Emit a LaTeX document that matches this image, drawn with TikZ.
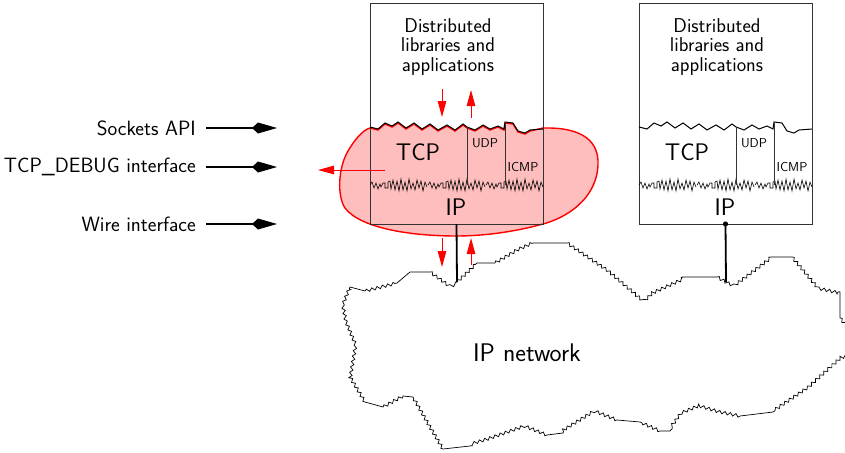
\documentclass[tikz,border=0pt]{standalone}
\usetikzlibrary{arrows.meta,decorations.pathmorphing}
\definecolor{blobfill}{RGB}{255,190,190}
\begin{document}
\begin{tikzpicture}[x=1pt,y=-1pt,font=\sffamily,
  boxline/.style={draw=black!80,line width=0.8pt},
  redarr/.style={red,line width=1pt,-{Triangle[length=16pt,width=8.5pt]}},
  apiarrow/.style={line width=1.8pt,-{Kite[length=25pt,width=11pt,inset=6pt]}},
  lbl/.style={font=\sffamily\fontsize{20.7}{20}\selectfont,anchor=east,inner sep=0pt},
  dist/.style={font=\sffamily\fontsize{20}{19.5}\selectfont,align=center,inner sep=0pt},
  big/.style={font=\sffamily\fontsize{24}{24}\selectfont,inner sep=0pt},
  small/.style={font=\sffamily\fontsize{13}{13}\selectfont,inner sep=0pt},
  stack/.pic={
    \draw[boxline] (0,0) rectangle (173,221);
    \draw[line width=1pt] plot coordinates {(0,124) (8,126) (15,120) (22,123) (28,119) (36,125) (44,120) (52,126) (60,121) (68,127) (77,122) (85,127) (93,121) (97,124) (105,127) (113,122) (120,126) (128,123) (134,126) (135,119) (143,120) (148,128) (155,130) (160,127) (173,126)};
    \foreach \o in {0,58,116}{
      \draw[line width=0.6pt,shift={(\o,0)}] plot coordinates {(0,182) (2,179) (4,185) (6,180) (8,186) (10,181) (11,184) (13,180) (15,180) (15,185) (18,185) (18,179) (20,178) (21,186) (23,177) (25,187) (27,178) (29,188) (31,176) (33,187) (35,179) (37,188) (39,176) (41,186) (43,180) (45,187) (47,177) (49,185) (51,178) (53,188) (55,179) (57,184)};
    }
    \draw[boxline] (97,124) -- (97,182);
    \draw[boxline] (135,119) -- (135,182);
    \node[dist] (-dist) at (78,44) {Distributed\\libraries and\\applications};
    \node[big] (-tcp) at (48,149) {TCP};
    \node[small] (-udp) at (115,140) {UDP};
    \node[small] (-icmp) at (153,164) {ICMP};
    \node[big] (-ip) at (86,204) {IP};
    \coordinate (-bot) at (86.5,221);
  }]
\useasboundingbox (0,0) rectangle (845,452);

% red blob behind left stack
\begin{scope}[shift={(370,3)}]
  \filldraw[fill=blobfill,draw=red,line width=1.4pt]
    plot coordinates {(0,125) (8,127) (15,121) (22,124) (28,120) (36,126) (44,121) (52,127) (60,122) (68,128) (77,123) (85,128) (93,122) (97,125) (105,128) (113,123) (120,127) (128,124) (134,127) (135,120) (143,121) (148,129) (155,131) (160,128) (173,125)}
    .. controls (215,124) and (229,140) .. (228,162)
    .. controls (227,190) and (205,212) .. (173,221)
    .. controls (140,230) and (110,233) .. (86,233)
    .. controls (40,233) and (-10,225) .. (-25,205)
    .. controls (-33,193) and (-32,165) .. (-22,148)
    .. controls (-15,136) and (-7,127) .. (0,125) -- cycle;
\end{scope}

\pic (L) at (370,3) {stack};
\pic (R) at (639,3) {stack};

% red arrows
\begin{scope}[shift={(370,3)}]
  \coordinate (d1s) at (72,86);  \coordinate (d1e) at (72,114);
  \coordinate (u1s) at (101,115); \coordinate (u1e) at (101,87);
  \coordinate (ls) at (15,167);  \coordinate (le) at (-52,167);
  \coordinate (d2s) at (72,235); \coordinate (d2e) at (72,264);
  \coordinate (u2s) at (101,262); \coordinate (u2e) at (101,235);
\end{scope}
\draw[redarr] (d1s) -- (d1e);
\draw[redarr] (u1s) -- (u1e);
\draw[redarr] (ls) -- (le);
\draw[redarr] (d2s) -- (d2e);
\draw[redarr] (u2s) -- (u2e);

% cloud
\coordinate (cL) at (457,282);
\coordinate (cR) at (726,282);
\draw[line width=0.7pt,decoration={snake,segment length=5.5pt,amplitude=1.5pt}]
  (cL) decorate{-- (477,263)} -- (495,263) decorate{-- (517,250) -- (533,243)} -- (567,243)
  decorate{-- (607,270) -- (642,300) -- (650,292) -- (683,277)} -- (717,277) decorate{-- (cR) -- (733,285) -- (770,257)} -- (792,257)
  decorate{-- (817,287) -- (840,292)} -- (840,318) decorate{-- (850,330)} -- (850,355)
  decorate{-- (843,357) -- (810,387) -- (773,412)} -- (740,416) decorate{-- (720,412) -- (700,406) -- (683,413) -- (670,431)} -- (660,431)
  decorate{-- (640,422)} -- (617,420) decorate{-- (597,412) -- (563,433)} -- (547,435) decorate{-- (527,427) -- (490,440) -- (470,446)} -- (443,449)
  decorate{-- (430,427) -- (413,397)} -- (403,396) decorate{-- (383,407)} -- (365,402)
  decorate{-- (350,377) -- (355,347) -- (345,323) -- (342,307) -- (350,287)} -- (365,291) decorate{-- (397,283)} -- (410,272) -- (430,272) decorate{-- (448,285) -- (cL)};
\node[font=\sffamily\fontsize{25.5}{25.5}\selectfont,inner sep=0pt] (net) at (527,353) {IP network};

% connections
\draw[line width=1.8pt] (L-bot) -- (cL);
\draw[line width=1.8pt] (R-bot) -- (cR);
\fill (R-bot) circle (2.6pt);

% left labels
\node[lbl] (sock) at (196,128) {Sockets API};
\node[lbl] (dbg) at (196,167) {TCP\_DEBUG interface};
\node[lbl] (wire) at (196,224) {Wire interface};
\coordinate (sockE) at (277,128);
\coordinate (dbgE) at (277,167);
\coordinate (wireE) at (277,224);
\draw[apiarrow] ([xshift=10pt]sock.east) -- (sockE);
\draw[apiarrow] ([xshift=10pt]dbg.east) -- (dbgE);
\draw[apiarrow] ([xshift=10pt]wire.east) -- (wireE);
\end{tikzpicture}
\end{document}
